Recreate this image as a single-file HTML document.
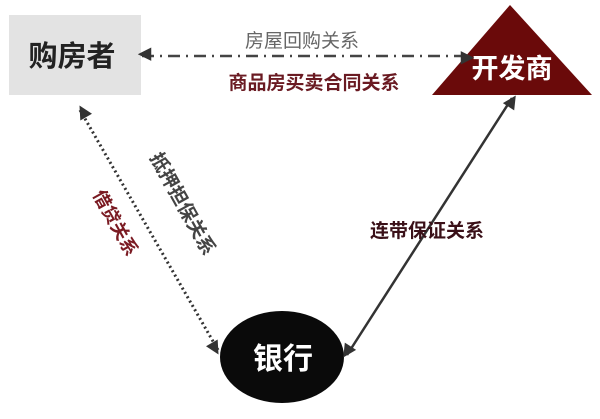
<!DOCTYPE html>
<html><head><meta charset="utf-8"><style>
body{margin:0;background:#fff}
svg{display:block}
text{font-family:"Liberation Sans","Noto Sans CJK SC",sans-serif}
</style></head><body>
<svg width="600" height="419" viewBox="0 0 600 419" xmlns="http://www.w3.org/2000/svg">
<defs>
<marker id="a" viewBox="0 0 10 10" refX="9" refY="5" markerWidth="6" markerHeight="6" orient="auto-start-reverse" markerUnits="userSpaceOnUse" style="overflow:visible">
<path d="M-4,-2 L10,5 L-4,12 z" fill="#333" transform="scale(1.6)"/>
</marker>
</defs>
<rect x="9" y="15" width="132" height="80" fill="#e3e3e3"/>
<text x="72" y="66" font-size="29" font-weight="bold" text-anchor="middle" fill="#222">购房者</text>
<polygon points="510,5 432,95 592,95" fill="#6a0a0a"/>
<text x="512" y="78" font-size="27" font-weight="bold" text-anchor="middle" fill="#fff">开发商</text>
<line x1="142" y1="56" x2="470" y2="56" stroke="#444" stroke-width="2.5" stroke-dasharray="12,6,2,6" marker-start="url(#a)" marker-end="url(#a)"/>
<text x="302" y="47" font-size="19" text-anchor="middle" fill="#666">房屋回购关系</text>
<text x="314" y="89" font-size="19" font-weight="bold" text-anchor="middle" fill="#6a1a22">商品房买卖合同关系</text>
<ellipse cx="282" cy="357" rx="62" ry="46" fill="#0a0a0a"/>
<text x="283" y="369" font-size="30" font-weight="bold" text-anchor="middle" fill="#fff">银行</text>
<line x1="80" y1="110" x2="218" y2="350" stroke="#333" stroke-width="3" stroke-dasharray="2,3" marker-start="url(#a)" marker-end="url(#a)"/>
<line x1="347" y1="355" x2="512" y2="98" stroke="#333" stroke-width="2.5" marker-start="url(#a)" marker-end="url(#a)"/>
<text x="427" y="237" font-size="19" font-weight="bold" text-anchor="middle" fill="#3a1018">连带保证关系</text>
<text transform="translate(177,207) rotate(61)" font-size="19" font-weight="bold" text-anchor="middle" fill="#444">抵押担保关系</text>
<text transform="translate(110,226) rotate(61)" font-size="18" font-weight="bold" text-anchor="middle" fill="#7a1a22">借贷关系</text>
</svg>
</body></html>
